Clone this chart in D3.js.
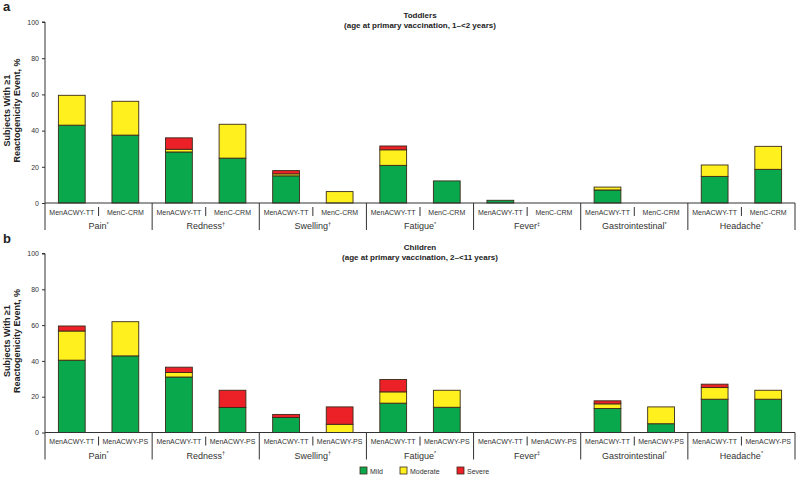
<!DOCTYPE html>
<html><head><meta charset="utf-8">
<script src="https://cdn.jsdelivr.net/npm/d3@7"></script>
<style>
body{margin:0;background:#fff;}
svg{display:block;font-family:"Liberation Sans",Arial,sans-serif;}
</style></head>
<body><svg id="c" width="800" height="478"></svg>
<script>
const groups = ["Pain","Redness","Swelling","Fatigue","Fever","Gastrointestinal","Headache"];
const groupMarks = ["*","†","†","*","‡","*","*"];
const severities = ["Mild","Moderate","Severe"];
const colors = ["#0aa84c","#fff01e","#ec2027"];
const yTicks = [0,20,40,60,80,100];

// Toddlers panel
const toddlerVaccines = ["MenACWY-TT","MenC-CRM"];
const toddlerMild     = [43.0,37.5, 28.2,24.8, 15.0,0,   20.8,12.2, 1.5,0, 7.2,0, 14.7,18.6];
const toddlerModerate = [16.5,18.7, 1.5,18.7,  1.1,6.3, 8.6,0,    0,0,   1.6,0, 6.3,12.7];
const toddlerSevere   = [0,0,      6.3,0,     1.8,0,   2.1,0,    0,0,   0,0,   0,0];

// Children panel
const childVaccines = ["MenACWY-TT","MenACWY-PS"];
const childMild     = [40.4,42.8, 31.0,14.0, 8.4,0,   16.4,14.1, 0,0, 13.4,4.9, 18.6,18.6];
const childModerate = [16.3,19.1, 2.5,0,    0,4.6,   6.3,9.5,   0,0, 2.6,9.4,  6.5,5.0];
const childSevere   = [2.8,0,     3.0,9.6,  1.7,9.7, 6.9,0,     0,0, 1.7,0,    1.9,0];

const svg = d3.select("#c");
const X0 = 45, X1 = 795;

function panel(cfg){
  const {top, bottom, letter, title1, title2, vaccines, mild, moderate, severe} = cfg;
  const g = svg.append("g");
  const y = d3.scaleLinear().domain([0,100]).range([bottom, top]);
  const xg = d3.scaleBand().domain(groups).range([X0, X1]).padding(0);
  const xs = d3.scaleBand().domain(vaccines).range([0, xg.bandwidth()]).paddingInner(0.5).paddingOuter(0.25);
  const xsub = d3.scaleBand().domain(vaccines).range([0, xg.bandwidth()]).padding(0);

  const rows = [];
  groups.forEach((gr,i)=>vaccines.forEach((v,j)=>{
    const k = i*vaccines.length + j;
    rows.push({group:gr, vac:v, Mild:mild[k], Moderate:moderate[k], Severe:severe[k]});
  }));
  const stack = d3.stack().keys(severities)(rows);

  stack.forEach((layer,li)=>{
    g.append("g").selectAll("rect").data(layer.filter(d=>d[1]-d[0]>0)).join("rect")
      .attr("x", d=>xg(d.data.group)+xs(d.data.vac))
      .attr("width", xs.bandwidth())
      .attr("y", d=>y(d[1]))
      .attr("height", d=>y(d[0])-y(d[1]))
      .attr("fill", colors[li])
      .attr("stroke","#3a2a1a").attr("stroke-width",0.9);
  });

  // y axis
  const ya = d3.axisLeft(y).tickValues(yTicks).tickSize(3).tickPadding(3);
  const yag = g.append("g").attr("transform",`translate(${X0},0)`).call(ya);
  yag.select(".domain").attr("stroke","#333").attr("stroke-width",1);
  yag.selectAll(".tick line").attr("stroke","#333");
  yag.selectAll(".tick text").attr("font-size",7).attr("fill","#333");
  yag.select(".domain").attr("d", `M-3,${top}H0V${bottom+27}`);

  // x axis baseline
  g.append("line").attr("x1",X0).attr("x2",X1).attr("y1",bottom).attr("y2",bottom)
    .attr("stroke","#333").attr("stroke-width",1);
  // group dividers
  g.append("g").selectAll("line").data(groups.slice(1).concat(["__end"])).join("line")
    .attr("x1", d=>d==="__end"?X1:xg(d)).attr("x2", d=>d==="__end"?X1:xg(d))
    .attr("y1", bottom).attr("y2", bottom+27).attr("stroke","#333").attr("stroke-width",1);
  // sub dividers
  g.append("g").selectAll("line").data(groups).join("line")
    .attr("x1", d=>xg(d)+xsub(vaccines[1])).attr("x2", d=>xg(d)+xsub(vaccines[1]))
    .attr("y1", bottom+4).attr("y2", bottom+13).attr("stroke","#333").attr("stroke-width",1);
  // sub labels
  g.append("g").selectAll("text").data(rows).join("text")
    .attr("x", d=>xg(d.group)+xsub(d.vac)+xsub.bandwidth()/2)
    .attr("y", bottom+11.5)
    .attr("text-anchor","middle").attr("font-size",7).attr("fill","#333")
    .text(d=>d.vac);
  // group labels
  const gl = g.append("g").selectAll("text").data(groups).join("text")
    .attr("x", d=>xg(d)+xg.bandwidth()/2)
    .attr("y", bottom+26)
    .attr("text-anchor","middle").attr("font-size",9).attr("fill","#333");
  gl.append("tspan").text(d=>d);
  gl.append("tspan").attr("font-size",5.5).attr("dy",-3.5).text((d,i)=>groupMarks[i]);

  // titles
  const cx = (X0+X1)/2;
  g.append("text").attr("x",cx).attr("y",top-4).attr("text-anchor","middle")
    .attr("font-size",8).attr("font-weight","bold").attr("fill","#222").text(title1);
  g.append("text").attr("x",cx).attr("y",top+6).attr("text-anchor","middle")
    .attr("font-size",8).attr("font-weight","bold").attr("fill","#222").text(title2);
  // panel letter
  g.append("text").attr("x",3).attr("y",top-11).attr("font-size",13).attr("font-weight","bold")
    .attr("fill","#222").text(letter);
  // y label
  const ym = (top+bottom)/2 - 2;
  g.append("text").attr("transform",`translate(10,${ym}) rotate(-90)`).attr("text-anchor","middle")
    .attr("font-size",9).attr("font-weight","bold").attr("fill","#222").text("Subjects With ≥1");
  g.append("text").attr("transform",`translate(20,${ym}) rotate(-90)`).attr("text-anchor","middle")
    .attr("font-size",9).attr("font-weight","bold").attr("fill","#222").text("Reactogenicity Event, %");
}

panel({top:22, bottom:203, letter:"a", title1:"Toddlers", title2:"(age at primary vaccination, 1–<2 years)",
  vaccines:toddlerVaccines, mild:toddlerMild, moderate:toddlerModerate, severe:toddlerSevere});
panel({top:253.5, bottom:432.5, letter:"b", title1:"Children", title2:"(age at primary vaccination, 2–<11 years)",
  vaccines:childVaccines, mild:childMild, moderate:childModerate, severe:childSevere});

// legend
const legX = [360, 400, 457];
const lg = svg.append("g").selectAll("g").data(severities).join("g")
  .attr("transform",(d,i)=>`translate(${legX[i]},467)`);
lg.append("rect").attr("width",7).attr("height",7).attr("fill",(d,i)=>colors[i])
  .attr("stroke","#3a2a1a").attr("stroke-width",0.8);
lg.append("text").attr("x",10).attr("y",6.5).attr("font-size",7).attr("fill","#333").text(d=>d);
</script></body></html>
